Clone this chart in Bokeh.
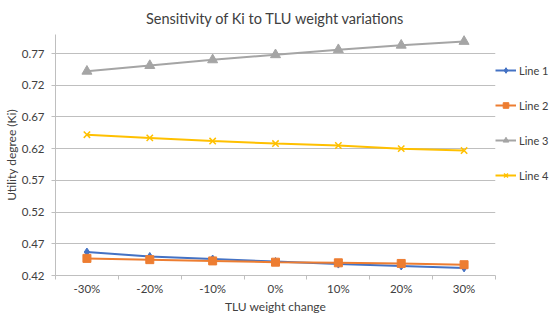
from bokeh.plotting import figure
from bokeh.models import Range1d, FixedTicker, Legend, LegendItem
from bokeh.embed import file_html
from bokeh.resources import INLINE

categories = ["-30%", "-20%", "-10%", "0%", "10%", "20%", "30%"]
line1 = [0.457, 0.450, 0.446, 0.442, 0.438, 0.435, 0.432]
line2 = [0.447, 0.445, 0.443, 0.441, 0.440, 0.439, 0.437]
line3 = [0.742, 0.751, 0.760, 0.768, 0.776, 0.783, 0.789]
line4 = [0.642, 0.637, 0.632, 0.628, 0.625, 0.620, 0.617]
series_names = ["Line 1", "Line 2", "Line 3", "Line 4"]
y_ticks = [0.42, 0.47, 0.52, 0.57, 0.62, 0.67, 0.72, 0.77]

FONT = "Lato"
TEXT = "#404040"

x = [i + 0.5 for i in range(len(categories))]

p = figure(frame_width=440, frame_height=241, output_backend="svg", toolbar_location=None,
           x_range=Range1d(0, len(categories)), y_range=Range1d(0.42, 0.80),
           min_border_left=45, min_border_right=0, min_border_top=27, min_border_bottom=30,
           title="Sensitivity of Ki to TLU weight variations")
p.outline_line_color = None
p.title.align = "center"
p.title.text_font = FONT
p.title.text_font_size = "14.5px"
p.title.text_font_style = "normal"
p.title.text_color = TEXT
p.title.standoff = 15

# x axis
p.xaxis.ticker = FixedTicker(ticks=x, minor_ticks=list(range(len(categories) + 1)))
p.xaxis.major_label_overrides = {xi: c for xi, c in zip(x, categories)}
p.xaxis.major_tick_out = 0
p.xaxis.major_tick_in = 0
p.xaxis.minor_tick_out = 4
p.xaxis.minor_tick_in = 0
p.xaxis.minor_tick_line_color = "#BFBFBF"
p.xaxis.axis_line_color = "#BFBFBF"
p.xaxis.axis_label = "TLU weight change"
p.xaxis.major_label_standoff = 2
p.xaxis.axis_label_standoff = 1
p.xgrid.grid_line_color = None

# y axis
p.yaxis.ticker = FixedTicker(ticks=y_ticks)
p.yaxis.major_label_overrides = {t: f"{t:.2f}" for t in y_ticks}
p.yaxis.major_tick_out = 4
p.yaxis.major_tick_in = 0
p.yaxis.major_tick_line_color = "#BFBFBF"
p.yaxis.minor_tick_line_color = None
p.yaxis.axis_line_color = "#BFBFBF"
p.yaxis.axis_label = "Utility degree (Ki)"
p.yaxis.major_label_standoff = 7
p.yaxis.axis_label_standoff = 0
p.ygrid.grid_line_color = "#BFBFBF"
p.ygrid.ticker = FixedTicker(ticks=y_ticks[1:])

for ax in (p.xaxis[0], p.yaxis[0]):
    ax.major_label_text_font = FONT
    ax.major_label_text_font_size = "11.5px"
    ax.major_label_text_color = TEXT
    ax.axis_label_text_font = FONT
    ax.axis_label_text_font_size = "12px"
    ax.axis_label_text_font_style = "normal"
    ax.axis_label_text_color = TEXT

series = [line1, line2, line3, line4]
colors = ["#4472C4", "#ED7D31", "#A5A5A5", "#FFC000"]
markers = ["diamond", "square", "triangle", "x"]
sizes = [8, 8, 10, 9]

items = []
for name, ys, c, m, s in zip(series_names, series, colors, markers, sizes):
    l = p.line(x, ys, line_color=c, line_width=2)
    if m == "x":
        sc = p.scatter(x, ys, marker=m, size=s, line_color=c, line_width=1.5)
    else:
        sc = p.scatter(x, ys, marker=m, size=s, fill_color=c, line_color=c)
    items.append(LegendItem(label=name, renderers=[l, sc]))

legend = Legend(items=items, location=(0, 93), padding=0, margin=0,
                glyph_width=21, glyph_height=14, label_height=14, spacing=21,
                label_standoff=3, label_text_font=FONT, label_text_font_size="11px",
                label_text_color=TEXT, border_line_color=None, background_fill_alpha=0)
p.add_layout(legend, "right")

open("out.html", "w").write(file_html(p, INLINE))
